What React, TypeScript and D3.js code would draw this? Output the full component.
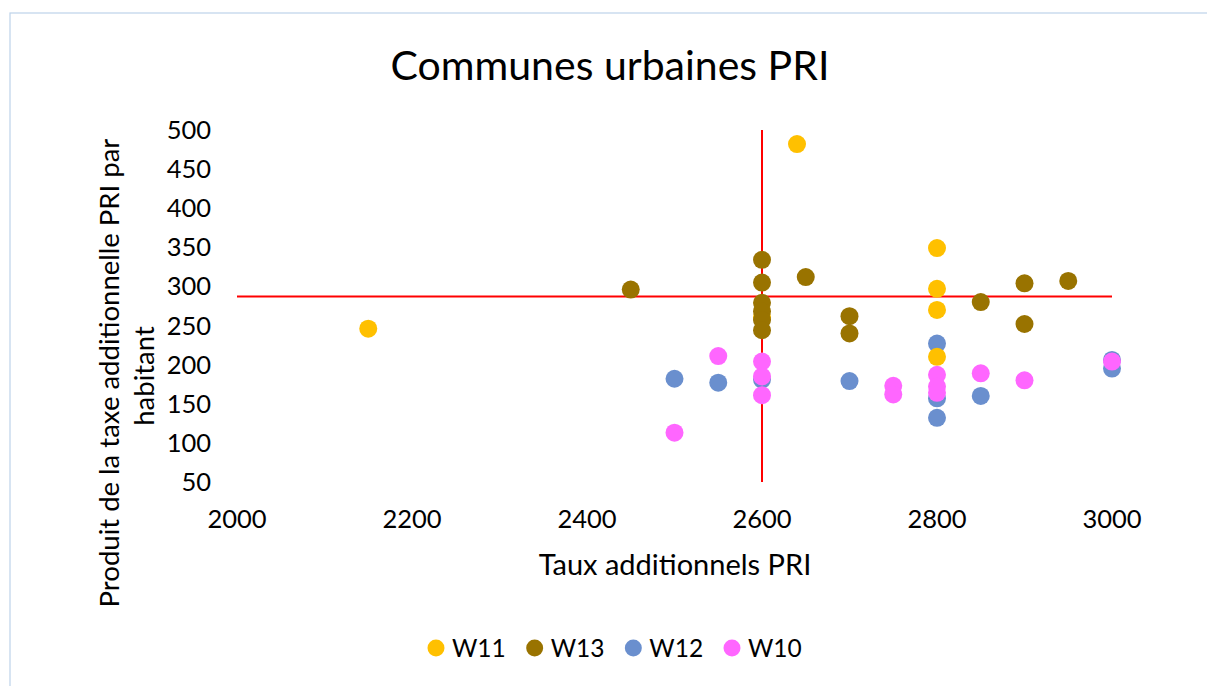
import React from 'react';
import * as d3 from 'd3';

const W = 1207;
const H = 686;

// [taux additionnel, produit par habitant]
const W11: [number, number][] = [
  [2150, 246], [2640, 482], [2600, 261], [2800, 349], [2800, 297], [2800, 270], [2800, 210],
];
const W13: [number, number][] = [
  [2450, 296], [2600, 334], [2600, 305], [2600, 279], [2600, 268], [2600, 257], [2600, 244],
  [2650, 312], [2700, 262], [2700, 240], [2850, 280], [2900, 304], [2900, 252], [2950, 307],
];
const W12: [number, number][] = [
  [2500, 182], [2550, 177], [2600, 181], [2700, 179], [2800, 227], [2800, 157], [2800, 132],
  [2850, 160], [3000, 195], [3000, 206],
];
const W10: [number, number][] = [
  [2500, 113], [2550, 211], [2600, 204], [2600, 185], [2600, 161], [2750, 173], [2750, 162],
  [2800, 187], [2800, 172], [2800, 164], [2850, 189], [2900, 180], [3000, 204],
];

// reference lines (red)
const vLine: [number, number][] = [[2600, 50], [2600, 500]];
const hLine: [number, number][] = [[2000, 287], [3000, 287]];

const xTicks = [2000, 2200, 2400, 2600, 2800, 3000];
const yTicks = [50, 100, 150, 200, 250, 300, 350, 400, 450, 500];

const legendNames = ['W11', 'W13', 'W12', 'W10'];
const COLORS: Record<string, string> = {
  W11: '#FFC000',
  W13: '#997300',
  W12: '#6A8FCE',
  W10: '#FF66FF',
};
// drawing order (later on top)
const drawOrder: [string, [number, number][]][] = [
  ['W12', W12], ['W11', W11], ['W13', W13], ['W10', W10],
];

const FONT = 'Lato, "Open Sans", sans-serif';

export default function App() {
  const x = d3.scaleLinear().domain([2000, 3000]).range([237, 1112]);
  const y = d3.scaleLinear().domain([50, 500]).range([482, 130]);
  const line = d3.line<[number, number]>().x(d => x(d[0])).y(d => y(d[1]));

  const legendX = d3.scalePoint<string>().domain(legendNames).range([436, 732]);

  return (
    <svg width={W} height={H} style={{ position: 'absolute', left: 0, top: 0, background: '#fff' }}
      fontFamily={FONT}>
      <rect x={10} y={13} width={W + 20} height={H + 20} fill="#fff" stroke="#BDD3EA" strokeWidth={1.2} />

      <text x={610} y={80} textAnchor="middle" fontSize={41} fill="#000">Communes urbaines PRI</text>

      {yTicks.map(t => (
        <text key={t} x={211} y={y(t) + 9} textAnchor="end" fontSize={25.5} fill="#000">{t}</text>
      ))}
      {xTicks.map(t => (
        <text key={t} x={x(t)} y={528} textAnchor="middle" fontSize={25.5} fill="#000">{t}</text>
      ))}

      <text x={675} y={575} textAnchor="middle" fontSize={29} fill="#000">Taux additionnels PRI</text>

      <text transform="translate(119,373) rotate(-90)" textAnchor="middle" fontSize={27.5} fill="#000">
        Produit de la taxe additionnelle PRI par
      </text>
      <text transform="translate(154,376) rotate(-90)" textAnchor="middle" fontSize={27.5} fill="#000">
        habitant
      </text>

      <path d={line(vLine) || ''} stroke="#FF0000" strokeWidth={2} fill="none" />
      <path d={line(hLine) || ''} stroke="#FF0000" strokeWidth={2} fill="none" />

      {drawOrder.map(([name, pts]) => (
        <g key={name}>
          {pts.map((p, i) => (
            <circle key={i} cx={x(p[0])} cy={y(p[1])} r={9} fill={COLORS[name]} />
          ))}
        </g>
      ))}

      {legendNames.map(n => (
        <g key={n} transform={`translate(${legendX(n)},648)`}>
          <circle r={8.5} fill={COLORS[n]} />
          <text x={16} y={9} fontSize={24.5} fill="#000">{n}</text>
        </g>
      ))}
    </svg>
  );
}
